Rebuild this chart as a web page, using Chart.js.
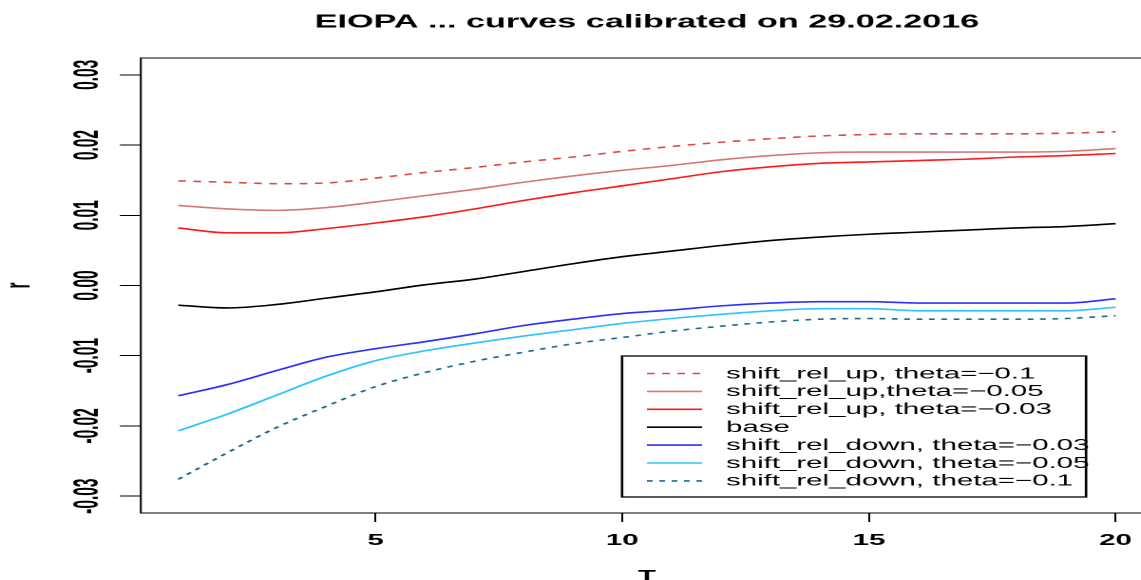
<!DOCTYPE html>
<html>
<head>
<meta charset="utf-8">
<script src="https://cdn.jsdelivr.net/npm/chart.js@4.4.1/dist/chart.umd.min.js"></script>
<style>
  html, body { margin:0; padding:0; background:#fff; overflow:hidden; width:1141px; height:580px; }
  #wrap { position:absolute; left:0; top:0; width:620px; height:580px; transform:scaleX(1.9); transform-origin:0 0; }
</style>
</head>
<body>
<div id="wrap"><canvas id="c" width="620" height="580"></canvas></div>
<script>
// ---- data ----
const titleText = "EIOPA ... curves calibrated on 29.02.2016";
const xTitle = "T";
const yTitle = "r";
const maturities = [1,2,3,4,5,6,7,8,9,10,11,12,13,14,15,16,17,18,19,20];
const upTheta01  = [0.0149,0.0147,0.0145,0.0146,0.0153,0.0161,0.0168,0.0176,0.0183,0.0191,0.0198,0.0204,0.0209,0.0213,0.0215,0.0216,0.0216,0.0216,0.0217,0.0219];
const upTheta005 = [0.0114,0.0109,0.0107,0.0111,0.0119,0.0128,0.0137,0.0147,0.0156,0.0164,0.0171,0.0179,0.0185,0.0189,0.0190,0.0190,0.0190,0.0190,0.0191,0.0195];
const upTheta003 = [0.0082,0.0075,0.0075,0.0081,0.0089,0.0098,0.0109,0.0121,0.0132,0.0142,0.0152,0.0162,0.0169,0.0174,0.0176,0.0178,0.0180,0.0183,0.0185,0.0188];
const baseCurve  = [-0.0028,-0.0032,-0.0027,-0.0018,-0.0009,0.0001,0.0009,0.0020,0.0031,0.0041,0.0049,0.0057,0.0064,0.0069,0.0073,0.0076,0.0079,0.0082,0.0084,0.0088];
const downTheta003 = [-0.0157,-0.0141,-0.0121,-0.0102,-0.0090,-0.0080,-0.0069,-0.0057,-0.0048,-0.0040,-0.0035,-0.0029,-0.0025,-0.0023,-0.0023,-0.0025,-0.0025,-0.0025,-0.0025,-0.0019];
const downTheta005 = [-0.0207,-0.0183,-0.0156,-0.0129,-0.0107,-0.0093,-0.0082,-0.0072,-0.0063,-0.0054,-0.0047,-0.0041,-0.0036,-0.0033,-0.0033,-0.0036,-0.0036,-0.0036,-0.0036,-0.0031];
const downTheta01  = [-0.0276,-0.0238,-0.0202,-0.0172,-0.0144,-0.0124,-0.0108,-0.0095,-0.0083,-0.0074,-0.0065,-0.0058,-0.0052,-0.0048,-0.0047,-0.0048,-0.0048,-0.0048,-0.0047,-0.0043];
const seriesNames = ["shift_rel_up, theta=\u22120.1","shift_rel_up,theta=\u22120.05","shift_rel_up, theta=\u22120.03","base","shift_rel_down, theta=\u22120.03","shift_rel_down, theta=\u22120.05","shift_rel_down, theta=\u22120.1"];
const xTickVals = [5,10,15,20];
const xTickLabels = ["5","10","15","20"];
const yTickVals = [-0.03,-0.02,-0.01,0,0.01,0.02,0.03];
const yTickLabels = ["-0.03","-0.02","-0.01","0.00","0.01","0.02","0.03"];

// ---- styles ----
const seriesValues = [upTheta01, upTheta005, upTheta003, baseCurve, downTheta003, downTheta005, downTheta01];
const colors = ["#E04848","#D67878","#FF1A1A","#000000","#2E2EFF","#30C4FF","#1A6E8E"];
const dashes = [[4,4],[],[],[],[],[],[3,3.5]];
const FONT = '"Liberation Sans", Arial, sans-serif';

const datasets = seriesValues.map((vals,i)=>({
  label: seriesNames[i],
  data: maturities.map((t,j)=>({x:t, y:vals[j]})),
  borderColor: colors[i],
  borderDash: dashes[i],
  borderWidth: 1.6,
  pointRadius: 0,
  fill: false,
  cubicInterpolationMode: 'monotone'
}));

const rPlot = {
  id: 'rPlot',
  beforeDraw(chart){
    const c = chart.ctx; c.save(); c.fillStyle = '#fff'; c.fillRect(0,0,chart.width,chart.height); c.restore();
  },
  afterDraw(chart){
    const ctx = chart.ctx, a = chart.chartArea, xs = chart.scales.x, ys = chart.scales.y;
    ctx.save();
    ctx.strokeStyle = '#000'; ctx.lineWidth = 1;
    ctx.strokeRect(a.left, a.top, a.right - a.left, a.bottom - a.top);
    const cx = (a.left + a.right) / 2;
    ctx.fillStyle = '#000';
    ctx.textAlign = 'center'; ctx.textBaseline = 'alphabetic';
    ctx.font = 'bold 18px ' + FONT;
    ctx.fillText(titleText, cx, 27.3);
    ctx.font = 'bold 15.5px ' + FONT;
    xTickVals.forEach((v,i)=> ctx.fillText(xTickLabels[i], xs.getPixelForValue(v), 545));
    ctx.fillText(xTitle, cx, 581);
    // rotated y tick labels
    yTickVals.forEach((v,i)=>{
      ctx.save(); ctx.translate(46.5, ys.getPixelForValue(v)); ctx.rotate(-Math.PI/2); ctx.scale(1, 1.2);
      ctx.textAlign = 'center'; ctx.textBaseline = 'middle';
      ctx.fillText(yTickLabels[i], 0, 0); ctx.restore();
    });
    ctx.save(); ctx.translate(10.5, (a.top + a.bottom)/2); ctx.rotate(-Math.PI/2); ctx.scale(1, 1.2);
    ctx.textAlign = 'center'; ctx.textBaseline = 'middle'; ctx.fillText(yTitle, 0, 0); ctx.restore();
    // legend
    const lr = a.right - 35.3, lb = a.bottom - 16, lw = 244.2, lh = 141;
    const ll = lr - lw, lt = lb - lh;
    ctx.fillStyle = '#fff'; ctx.fillRect(ll, lt, lw, lh);
    ctx.strokeStyle = '#000'; ctx.lineWidth = 1.3; ctx.strokeRect(ll, lt, lw, lh);
    ctx.font = '15.5px ' + FONT; ctx.textAlign = 'left'; ctx.textBaseline = 'middle';
    datasets.forEach((d,i)=>{
      const y = lt + 17.5 + i*17.9;
      ctx.strokeStyle = d.borderColor; ctx.lineWidth = 1.6; ctx.setLineDash(d.borderDash);
      ctx.beginPath(); ctx.moveTo(ll + 13.1, y); ctx.lineTo(ll + 42.1, y); ctx.stroke();
      ctx.setLineDash([]);
      ctx.fillStyle = '#000'; ctx.fillText(d.label, ll + 54.7, y + 0.5);
    });
    ctx.restore();
  }
};

new Chart(document.getElementById('c'), {
  type: 'line',
  data: { datasets },
  options: {
    responsive: false,
    animation: false,
    devicePixelRatio: 2,
    layout: { padding: { top: 58, right: 13.1, left: 0, bottom: 0 } },
    plugins: { legend: { display: false }, title: { display: false }, tooltip: { enabled: false } },
    scales: {
      x: {
        type: 'linear', min: 0.24, max: 20.76,
        afterBuildTicks: s => { s.ticks = xTickVals.map(v => ({ value: v })); },
        afterFit: s => { s.height = 67; },
        ticks: { display: false },
        grid: { drawOnChartArea: false, drawTicks: true, tickLength: 9, color: '#000', tickColor: '#000', tickWidth: 1 },
        border: { display: false }
      },
      y: {
        type: 'linear', min: -0.0324, max: 0.0324,
        afterBuildTicks: s => { s.ticks = yTickVals.map(v => ({ value: v })); },
        afterFit: s => { s.width = 74.1; },
        ticks: { display: false },
        grid: { drawOnChartArea: false, drawTicks: true, tickLength: 11, color: '#000', tickColor: '#000', tickWidth: 1 },
        border: { display: false }
      }
    }
  },
  plugins: [rPlot]
});
</script>
</body>
</html>
